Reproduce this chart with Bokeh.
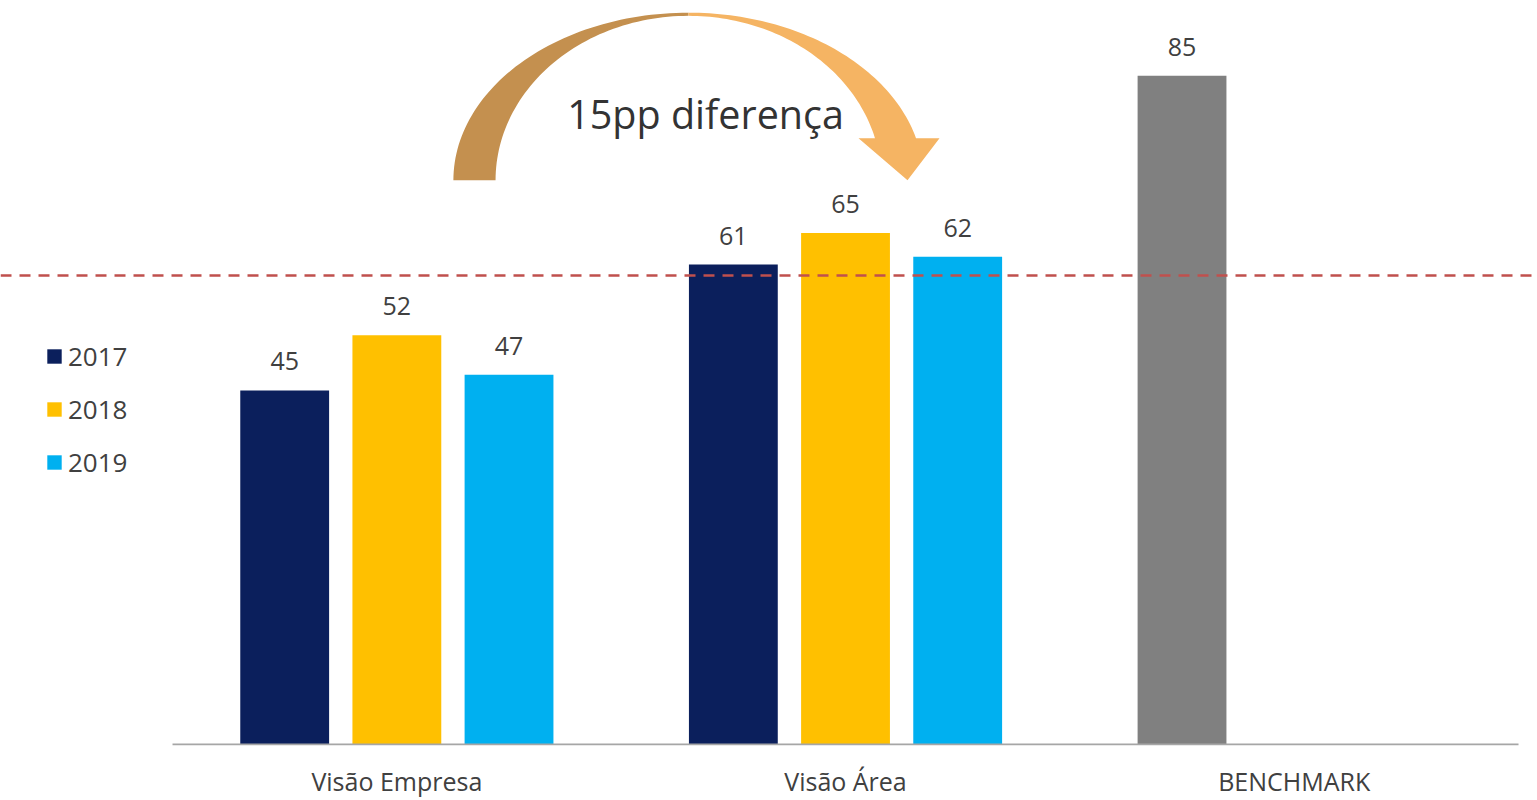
import numpy as np
from bokeh.plotting import figure
from bokeh.models import (ColumnDataSource, Range1d, FixedTicker, Span, Legend,
                          LegendItem)
from bokeh.core.properties import value
from bokeh.embed import file_html
from bokeh.resources import INLINE

# ---------------- data ----------------
categories = ["Visão Empresa", "Visão Área", "BENCHMARK"]
years = ["2017", "2018", "2019"]
values_2017 = [45, 61]
values_2018 = [52, 65]
values_2019 = [47, 62]
benchmark = [85]
threshold = 59.6
annotation_text = "15pp diferença"

colors = {"2017": "#0B1F5C", "2018": "#FFC000", "2019": "#00B0F0"}
bench_color = "#808080"
FONT = "Open Sans"
TXT = "#404040"

W, H = 1537, 800
p = figure(width=W, height=H, output_backend="svg", toolbar_location=None,
           x_range=Range1d(-0.3834, 3.0423), y_range=Range1d(-0.127, 94.55),
           y_axis_location=None, min_border_left=0, min_border_right=0,
           min_border_top=0, min_border_bottom=53)
p.outline_line_color = None
p.xgrid.visible = False
p.ygrid.visible = False
p.background_fill_color = "white"

offsets = [-0.25, 0.0, 0.25]
bar_w = 0.198
series = [values_2017, values_2018, values_2019]
renderers = []
for yr, off, vals in zip(years, offsets, series):
    xs = np.arange(len(vals)) + 0.5 + off
    src = ColumnDataSource(dict(x=xs, top=vals, lab=[str(v) for v in vals]))
    r = p.vbar(x="x", top="top", width=bar_w, bottom=0, source=src,
               fill_color=colors[yr], line_color=None)
    renderers.append(r)
    p.text(x="x", y="top", text="lab", source=src, text_align="center",
           text_baseline="alphabetic", y_offset=-29, text_color=TXT,
           text_font=value(FONT), text_font_size="25px")

bidx = categories.index("BENCHMARK")
bsrc = ColumnDataSource(dict(x=[bidx + 0.5 + offsets[0]], top=benchmark,
                             lab=[str(v) for v in benchmark]))
p.vbar(x="x", top="top", width=bar_w, bottom=0, source=bsrc,
       fill_color=bench_color, line_color=None)
p.text(x="x", y="top", text="lab", source=bsrc, text_align="center",
       text_baseline="alphabetic", y_offset=-29, text_color=TXT,
       text_font=value(FONT), text_font_size="25px")

# baseline
p.segment(x0=[0], y0=[0], x1=[len(categories)], y1=[0],
          line_color="#A6A6A6", line_width=2)

# threshold dashed line
p.add_layout(Span(location=threshold, dimension="width", line_color="#C0504D",
                  line_width=2.5, line_dash="11 8"))

# curved arrow annotation
cx, cy = 1.150, 71.7
ao, bo = 0.524, 21.3
ai, bi = 0.430, 20.9
yend = 77.06
to_end = np.arcsin((yend - cy) / bo)
ti_end = np.arcsin((yend - cy) / bi)
t1 = np.linspace(np.pi, np.pi / 2, 60)
t2 = np.linspace(np.pi / 2, np.pi, 60)
lx = np.concatenate([cx + ao * np.cos(t1), cx + ai * np.cos(t2)])
ly = np.concatenate([cy + bo * np.sin(t1), cy + bi * np.sin(t2)])
t3 = np.linspace(np.pi / 2, to_end, 60)
t4 = np.linspace(ti_end, np.pi / 2, 60)
hx = [(939 - 172) / 448.67, (907 - 172) / 448.67, (858 - 172) / 448.67]
hy = [yend, cy, yend]
rx = np.concatenate([cx + ao * np.cos(t3), hx, cx + ai * np.cos(t4)])
ry = np.concatenate([cy + bo * np.sin(t3), hy, cy + bi * np.sin(t4)])
p.patch(lx, ly, fill_color="#C4904F", line_color=None)
p.patch(rx, ry, fill_color="#F5B463", line_color=None)
p.text(x=[1.188], y=[80.1], text=[annotation_text], text_align="center",
       text_baseline="middle", text_color="#333333", text_font=value(FONT),
       text_font_size="39.5px")

# x axis
ax = p.xaxis[0]
ax.ticker = FixedTicker(ticks=[i + 0.5 for i in range(len(categories))])
ax.major_label_overrides = {i + 0.5: c for i, c in enumerate(categories)}
ax.axis_line_color = None
ax.major_tick_line_color = None
ax.minor_tick_line_color = None
ax.major_label_text_font = FONT
ax.major_label_text_font_size = "25px"
ax.major_label_text_color = TXT
ax.major_label_standoff = 12

legend = Legend(items=[LegendItem(label=y, renderers=[r]) for y, r in zip(years, renderers)],
                location=(45, 265), glyph_width=18, glyph_height=18,
                label_text_font=FONT, label_text_font_size="26px",
                label_text_color=TXT, label_standoff=5, label_height=20,
                spacing=17, padding=0, margin=0, border_line_color=None,
                background_fill_alpha=0)
p.add_layout(legend, "center")

open("out.html", "w").write(file_html(p, INLINE))
